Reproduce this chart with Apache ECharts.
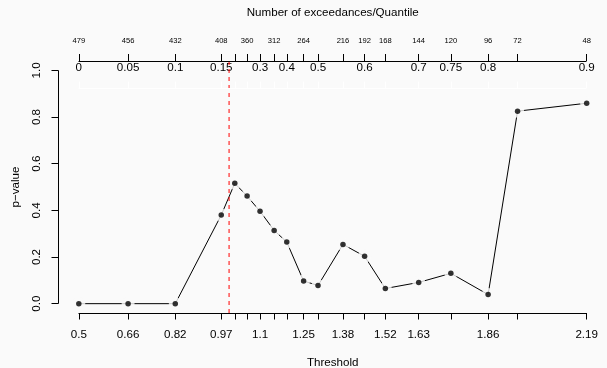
<!DOCTYPE html>
<html>
<head>
<meta charset="utf-8">
<script src="https://cdn.jsdelivr.net/npm/echarts@6/dist/echarts.min.js"></script>
<style>
  html, body { margin: 0; padding: 0; background: #fafafa; }
  #chart { width: 607px; height: 368px; }
</style>
</head>
<body>
<div id="chart"></div>
<script>
// Candidate thresholds and the p-value obtained at each one
const thresholds = [0.5, 0.664, 0.821, 0.974, 1.019, 1.06, 1.103, 1.15, 1.192, 1.248, 1.296, 1.379, 1.451, 1.52, 1.631, 1.738, 1.862, 1.96, 2.19];
const pValues = [0.0, 0.0, 0.0, 0.380, 0.516, 0.461, 0.396, 0.314, 0.264, 0.097, 0.078, 0.254, 0.203, 0.065, 0.091, 0.130, 0.039, 0.825, 0.859];
// Bottom axis labels ('' = tick without label)
const thresholdLabels = ['0.5', '0.66', '0.82', '0.97', '', '', '1.1', '', '', '1.25', '', '1.38', '', '1.52', '1.63', '', '1.86', '', '2.19'];
// Quantile and number of exceedances belonging to each threshold
const quantiles = [0, 0.05, 0.1, 0.15, 0.2, 0.25, 0.3, 0.35, 0.4, 0.45, 0.5, 0.55, 0.6, 0.65, 0.7, 0.75, 0.8, 0.85, 0.9];
const quantileLabels = ['0', '0.05', '0.1', '0.15', '', '', '0.3', '', '0.4', '', '0.5', '', '0.6', '', '0.7', '0.75', '0.8', '', '0.9'];
const exceedances = [479, 456, 432, 408, 384, 360, 336, 312, 288, 264, 240, 216, 192, 168, 144, 120, 96, 72, 48];
const exceedanceLabels = ['479', '456', '432', '408', '', '360', '', '312', '', '264', '', '216', '192', '168', '144', '120', '96', '72', '48'];
// p-value axis ticks
const pTicks = [0, 0.2, 0.4, 0.6, 0.8, 1.0];
// Selected threshold (dashed red line)
const chosenThreshold = 1.0;

const FONT = '"Liberation Sans", Arial, Helvetica, sans-serif';
const BG = '#fafafa';
const INK = '#000';
const RED = '#ff0000';

const nT = thresholds.length;
const span = thresholds[nT - 1] - thresholds[0];
const xMin = thresholds[0] - 0.04 * span;
const xMax = thresholds[nT - 1] + 0.04 * span;
const yMin = -0.04, yMax = 1.04;

// label lookup: nearest threshold index -> text in the given list
function labelFrom(list) {
  return function (v) {
    let best = 0;
    for (let i = 1; i < nT; i++) {
      if (Math.abs(thresholds[i] - v) < Math.abs(thresholds[best] - v)) best = i;
    }
    return list[best];
  };
}
const withLabel = list => thresholds.filter((t, i) => list[i] !== '');

const points = thresholds.map((t, i) => [t, pValues[i]]);

const chart = echarts.init(document.getElementById('chart'), null, { renderer: 'canvas' });

const baseX = {
  type: 'value', min: xMin, max: xMax,
  axisLine: { show: false, onZero: false },
  splitLine: { show: false },
};

chart.setOption({
  animation: false,
  backgroundColor: BG,
  textStyle: { fontFamily: FONT },
  grid: { left: 58.5, right: 0, top: 61, bottom: 55, containLabel: false, outerBoundsMode: 'none' },
  xAxis: [
    Object.assign({}, baseX, {
      position: 'bottom',
      axisTick: { customValues: thresholds, length: 6.5, lineStyle: { color: INK, width: 1 } },
      axisLabel: { customValues: withLabel(thresholdLabels), formatter: labelFrom(thresholdLabels),
        color: INK, fontSize: 11.6, fontFamily: FONT, margin: 16 },
      name: 'Threshold', nameLocation: 'middle', nameGap: 44,
      nameTextStyle: { color: INK, fontSize: 11.6, fontFamily: FONT }
    }),
    Object.assign({}, baseX, {
      position: 'top',
      axisTick: { customValues: thresholds, length: 7, lineStyle: { color: INK, width: 1 } },
      axisLabel: { customValues: withLabel(quantileLabels), formatter: labelFrom(quantileLabels),
        inside: true, color: INK, fontSize: 11.6, fontFamily: FONT, margin: 1 }
    }),
    Object.assign({}, baseX, {
      position: 'top',
      axisTick: { show: false },
      axisLabel: { customValues: withLabel(exceedanceLabels), formatter: labelFrom(exceedanceLabels),
        color: INK, fontSize: 7.6, fontFamily: FONT, margin: 16 },
      name: 'Number of exceedances/Quantile', nameLocation: 'middle', nameGap: 42,
      nameTextStyle: { color: INK, fontSize: 11.6, fontFamily: FONT }
    }),
    Object.assign({}, baseX, {
      position: 'top', offset: -27,
      axisTick: { customValues: thresholds, length: 6.5, lineStyle: { color: '#ffffff', width: 1 } },
      axisLabel: { show: false }
    })
  ],
  yAxis: {
    type: 'value', min: yMin, max: yMax,
    axisLine: { show: false, onZero: false },
    splitLine: { show: false },
    axisTick: { customValues: pTicks, length: 7, lineStyle: { color: INK, width: 1 } },
    axisLabel: { customValues: pTicks, formatter: v => v.toFixed(1), rotate: 90,
      color: INK, fontSize: 11.6, fontFamily: FONT, margin: 16 },
    name: 'p\u2212value', nameLocation: 'middle', nameGap: 37, nameRotate: 90,
    nameTextStyle: { color: INK, fontSize: 11.6, fontFamily: FONT }
  },
  series: [
    {
      type: 'line', data: points, z: 1, showSymbol: false, silent: true,
      lineStyle: { color: INK, width: 1 }
    },
    {
      // background-coloured halo so segments stop short of each point
      type: 'scatter', data: points, z: 2, silent: true,
      symbol: 'circle', symbolSize: 13, itemStyle: { color: BG }
    },
    {
      type: 'scatter', data: points, z: 3, silent: true,
      symbol: 'circle', symbolSize: 5.5, itemStyle: { color: INK }
    },
    {
      // selected threshold, across the whole plotting region
      type: 'line', z: 5, silent: true, clip: false, showSymbol: false,
      data: [[chosenThreshold, yMin], [chosenThreshold, yMax]],
      lineStyle: { color: RED, width: 1, type: [4, 4] },
      itemStyle: { color: RED }
    }
  ]
});

// Axis lines spanning first..last tick only
const px = (x, y) => chart.convertToPixel({ xAxisIndex: 0, yAxisIndex: 0 }, [x, y]);
const crisp = v => Math.round(v - 0.5) + 0.5;
function seg(a, b, color) {
  return {
    type: 'line', silent: true, z: 100,
    shape: { x1: crisp(a[0]), y1: crisp(a[1]), x2: crisp(b[0]), y2: crisp(b[1]) },
    style: { stroke: color, lineWidth: 1 }
  };
}
const tFirst = thresholds[0], tLast = thresholds[nT - 1];
const bottomA = px(tFirst, yMin), bottomB = px(tLast, yMin);
const topA = px(tFirst, yMax), topB = px(tLast, yMax);
const leftA = px(xMin, pTicks[0]), leftB = px(xMin, pTicks[pTicks.length - 1]);
chart.setOption({
  graphic: [
    seg(bottomA, bottomB, INK),
    seg(topA, topB, INK),
    seg(leftA, leftB, INK),
    seg([topA[0], topA[1] + 27], [topB[0], topB[1] + 27], '#ffffff')
  ]
});
</script>
</body>
</html>
